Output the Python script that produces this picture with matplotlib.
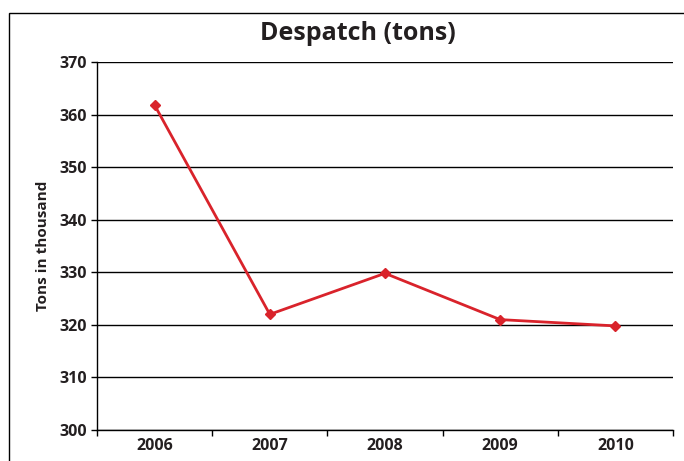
import matplotlib.pyplot as plt
from matplotlib.patches import Rectangle

# Despatch volumes by year (thousand tons)
years = ["2006", "2007", "2008", "2009", "2010"]
despatch = [361.8, 322.0, 329.8, 321.0, 319.8]
y_ticks = [300, 310, 320, 330, 340, 350, 360, 370]

plt.rcParams["font.family"] = ["Open Sans", "DejaVu Sans"]
text_col = "#231f20"

fig = plt.figure(figsize=(6.84, 4.61), dpi=100)

# outer chart frame (runs off the right and bottom edges)
fig.patches.append(Rectangle((9 / 684, -0.05), 1.0, (461 - 13) / 461 + 0.05,
                             transform=fig.transFigure, fill=False,
                             edgecolor="black", linewidth=1.0))

ax = fig.add_axes([97 / 684, 31 / 461, 576 / 684, 368 / 461])

x = range(len(years))
ax.plot(x, despatch, color="#d9232b", linewidth=2.0, marker="D", markersize=5)

ax.set_xlim(-0.5, len(years) - 0.5)
ax.set_ylim(300, 370)
ax.set_yticks(y_ticks)
ax.set_yticklabels([str(v) for v in y_ticks], fontsize=11.5, fontweight="bold",
                   color=text_col)
ax.set_xticks(x)
ax.set_xticklabels(years, fontsize=11.5, fontweight="bold", color=text_col)
ax.set_xticks([i - 0.5 for i in range(len(years) + 1)], minor=True)
ax.tick_params(axis="x", which="major", length=0, pad=6)
ax.tick_params(axis="x", which="minor", length=4, width=1)
ax.tick_params(axis="y", length=4, width=1, pad=3)

ax.yaxis.grid(True, color="black", linewidth=1.0)
ax.set_axisbelow(True)
for side in ("top", "right"):
    ax.spines[side].set_visible(False)
ax.spines["left"].set_linewidth(1.0)
ax.spines["bottom"].set_linewidth(1.0)

ax.set_ylabel("Tons in thousand", fontsize=11, fontweight="bold",
              color=text_col, labelpad=7)
fig.text(358 / 684, 1 - 34 / 461, "Despatch (tons)", ha="center", va="center",
         fontsize=18, fontweight="bold", color=text_col)

fig.savefig("out.png", dpi=100)
